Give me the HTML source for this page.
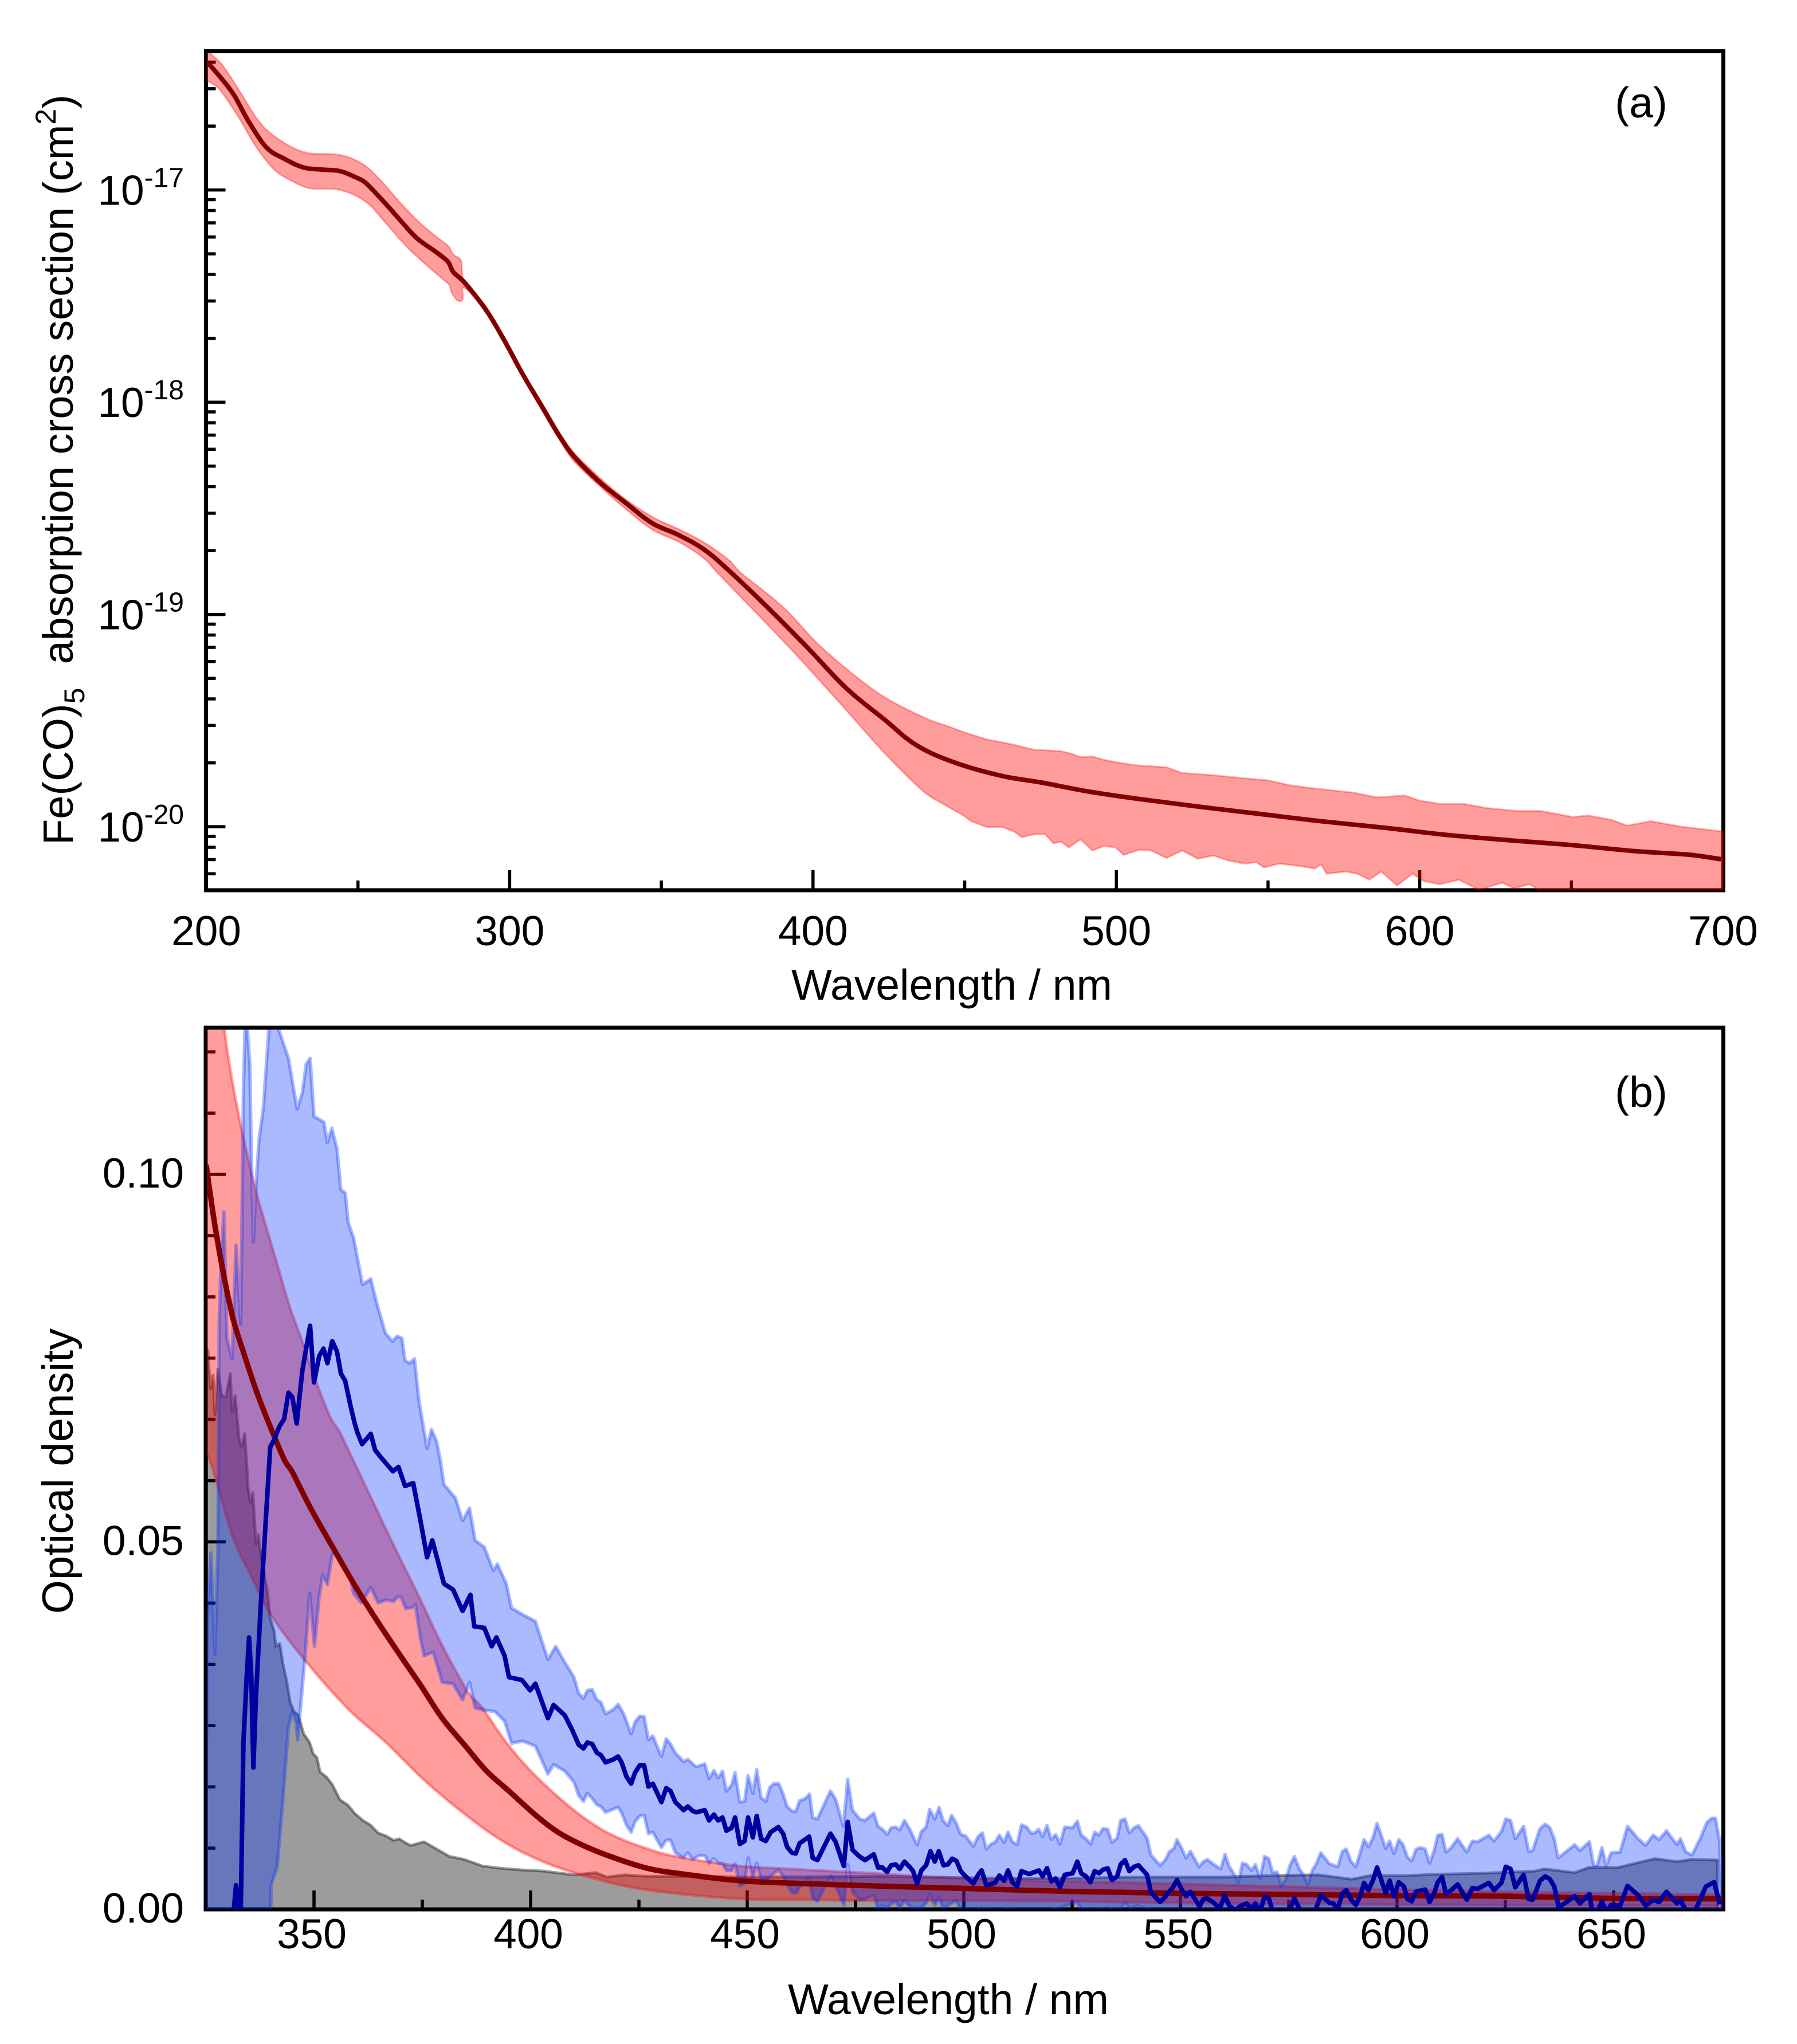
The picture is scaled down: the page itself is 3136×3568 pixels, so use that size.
<!DOCTYPE html>
<html lang="en">
<head>
<meta charset="utf-8">
<title>Fe(CO)5 absorption cross section and optical density</title>
<style>
html,body{margin:0;padding:0;background:#fff;}
svg{display:block;}
text{font-family:"Liberation Sans",Arial,sans-serif;fill:#000;font-size:73px;}
</style>
</head>
<body>
<svg id="figure" xmlns="http://www.w3.org/2000/svg" width="3136" height="3568" viewBox="0 0 3136 3568">
<defs>
<clipPath id="clipA"><rect x="361" y="92.5" width="2646.5" height="1461.5"/></clipPath>
<clipPath id="clipB"><rect x="361" y="1797" width="2644.5" height="1536"/></clipPath>
</defs>
<rect x="0" y="0" width="3136" height="3568" fill="#fff"/>
<g id="panelA"></g>
<g id="panelB"></g>
<text x="2864" y="205" text-anchor="middle" style="font-size:75px">(a)</text>
<text x="2864" y="1932" text-anchor="middle" style="font-size:75px">(b)</text>
<text x="1661" y="1745" text-anchor="middle" style="font-size:75px">Wavelength / nm</text>
<text x="1655" y="3516" text-anchor="middle" style="font-size:75px">Wavelength / nm</text>
<text transform="translate(127,1475) rotate(-90)" xml:space="preserve" style="font-size:74px">Fe(CO)<tspan style="font-size:50px" dy="20">5</tspan><tspan dy="-20">  absorption cross section (cm</tspan><tspan style="font-size:50px" dy="-30">2</tspan><tspan dy="30">)</tspan></text>
<text transform="translate(127,2568) rotate(-90)" text-anchor="middle" style="font-size:76px">Optical density</text>
</svg>
<script>
/* ---------- Panel (a): log10 of absorption cross section vs wavelength ---------- */
const aLineWavelength=[
200.2,204.3,209.1,213.9,219.9,226,232,238,244,248.9,
252.5,258.5,264.5,269.4,275.4,279.6,281.4,285,292.2,298.2,
304.3,310.3,316.3,321.2,329.8,338.4,347,355.6,364.2,372.4,
385.2,398.1,411,423.9,434.1,447,462.4,475.3,490.7,506.2,
526.8,547.4,568,588.6,609.1,629.7,650.3,670.9,688.9,699.3];
const aLineLogSigma=[
-16.396,-16.463,-16.552,-16.676,-16.801,-16.855,-16.894,-16.904,-16.911,-16.938,
-16.966,-17.055,-17.152,-17.227,-17.289,-17.337,-17.386,-17.434,-17.565,-17.708,
-17.868,-18.012,-18.157,-18.255,-18.378,-18.476,-18.57,-18.625,-18.695,-18.795,
-18.969,-19.155,-19.348,-19.499,-19.616,-19.699,-19.761,-19.792,-19.834,-19.867,
-19.905,-19.94,-19.975,-20.005,-20.039,-20.064,-20.087,-20.115,-20.132,-20.153];
const aUpperWavelength=[
200.2,205.5,211.5,216.3,221.1,228.4,234.4,244,251.3,257.3,
264.5,271.7,279.6,281.4,284,285,292.2,298.2,304.3,310.3,
316.3,321,330,338,347,356,364,372,376.2,390.4,
402.8,421.3,436.7,444.5,449.6,457.3,465,472.8,481.8,485.6,
488.2,492.1,495.9,501.1,506.2,516.5,521.7,532,537.1,550,
557.7,565.4,569.3,578.3,586,595,600.2,606.6,614.3,622,
632.3,640.1,650.4,655.5,663.2,668.4,676.1,686.4,691.6,700];
const aUpperLogSigma=[
-16.342,-16.415,-16.546,-16.656,-16.732,-16.8,-16.828,-16.835,-16.876,-16.952,
-17.069,-17.172,-17.262,-17.303,-17.333,-17.427,-17.551,-17.695,-17.854,-17.996,
-18.14,-18.235,-18.36,-18.455,-18.54,-18.6,-18.66,-18.74,-18.804,-18.969,
-19.155,-19.369,-19.486,-19.527,-19.554,-19.589,-19.61,-19.637,-19.644,-19.658,
-19.672,-19.669,-19.685,-19.699,-19.71,-19.72,-19.747,-19.757,-19.765,-19.782,
-19.806,-19.82,-19.826,-19.84,-19.862,-19.853,-19.878,-19.892,-19.892,-19.912,
-19.926,-19.926,-19.954,-19.947,-19.968,-19.995,-19.974,-20,-20.009,-20.023];
const aLowerWavelength=[
200.2,204.3,210.3,216.3,222.4,228.4,234.4,244,252.5,258.5,
265.7,272.9,280.2,280.8,284,285,292.2,298.2,304.3,310.3,
316.3,321,330,338,347,356,364,368.5,391.7,408.4,
423.9,436.7,444.5,449.6,452.2,457.3,462.5,466.3,468.9,472.8,
476.6,479.2,481.8,484.3,488.2,492.1,495.9,499.8,502.4,507.5,
511.4,516.5,521.7,526.8,532,537.1,542.3,546.1,548.7,553.8,
560.3,565.4,567.5,569.3,575.7,579.6,583.4,587.3,592.5,597.6,
601.5,606.6,613,619.5,627.2,631.1,636.2,640.1,700];
const aLowerLogSigma=[
-16.484,-16.525,-16.649,-16.794,-16.904,-16.959,-16.993,-17,-17.055,-17.145,
-17.262,-17.358,-17.448,-17.482,-17.523,-17.461,-17.578,-17.723,-17.881,-18.029,
-18.173,-18.275,-18.4,-18.5,-18.6,-18.66,-18.735,-18.804,-19.148,-19.41,
-19.658,-19.837,-19.906,-19.947,-19.974,-20.002,-20.002,-20.023,-20.05,-20.036,
-20.036,-20.078,-20.071,-20.098,-20.06,-20.112,-20.091,-20.098,-20.133,-20.109,
-20.112,-20.147,-20.112,-20.151,-20.136,-20.16,-20.174,-20.167,-20.192,-20.174,
-20.185,-20.197,-20.177,-20.222,-20.211,-20.222,-20.25,-20.211,-20.277,-20.222,
-20.257,-20.271,-20.25,-20.298,-20.264,-20.291,-20.271,-20.305,-20.33];
const aXMajorTicks=[200,300,400,500,600,700];
const aXMinorTicks=[250,350,450,550,650];
const aDecades=[-17,-18,-19,-20];
const aMinorMantissas=[2,3,4,5,6,7,8,9];

/* ---------- Panel (b): optical density vs wavelength ---------- */
const bRedWavelength=[
325.1,326,327.2,329,331.3,334,336.7,339.6,343.2,345,
349.2,354.3,359.4,364.4,369.5,374.6,379.6,384.7,389.7,394.8,
401.6,406.6,412.5,418.4,426.9,435.3,449.5,475,500,525,
550,568.5,600,625,650,675];
const bRedDensity=[
.1013,.0975,.0928,.0868,.0804,.0753,.0705,.0661,.0611,.0595,
.0546,.0493,.0441,.0394,.0349,.0305,.026,.0224,.0189,.0162,
.0126,.0104,.0086,.0072,.0056,.0048,.00385,.00327,.00285,.00243,
.00218,.00207,.00187,.00179,.0015,.00143];
const bRedUpperWavelength=[
325,329.3,331.3,333.1,334.9,336.7,339,341.4,344.4,347.3,
350.3,353.8,356,362.7,368.6,374.6,379.6,385.5,388.9,394.8,
401.6,410,415.8,420.4,425.7,431.9,440.7,450.4,476,500,
525,548,600,625,650,675];
const bRedUpperDensity=[
.15,.12,.1122,.1067,.1019,.0975,.0928,.088,.082,.0773,
.0721,.0669,.0649,.0566,.0493,.0421,.0359,.0296,.0274,.0224,
.0179,.0135,.0111,.0097,.0085,.0074,.0065,.0058,.005,.0042,
.0038,.0035,.0027,.0024,.0022,.002];
const bRedLowerWavelength=[
325,326.9,331.3,335.7,340.1,347.6,357.8,366.6,375.4,384.7,
393.2,401.6,409.8,414.2,418.6,425.2,436.3,449.5,462.7,476,
500,525,545,610,650,675];
const bRedLowerDensity=[
.0625,.0594,.0506,.0451,.04,.0341,.0273,.0227,.0176,.013,
.0094,.0068,.005,.0043,.0036,.0028,.002,.0014,.0013,.0012,
.0012,.0011,.0009,.0006,.0005,.0005];
const bGrayWavelength=[
325.2,325.5,326.1,326.7,327.1,327.8,328.7,329.6,330.7,331.1,
331.8,332.7,333.3,334,334.4,334.8,335.3,335.9,336.6,337.1,
337.9,339.3,339.9,340.8,341.2,342.1,342.8,343.7,344.5,345.4,
346.3,347,347.6,349,349.8,350.7,351.4,352.9,354.2,356,
357.8,359.5,361.3,363,364.8,366.6,368.4,369.7,371,372.3,
375.4,381.3,384.7,388.9,393.1,397.3,403.2,410,415,417.6,
421.8,426.9,435.3,450,480,500,520,540,560,571,
582,589.5,593.7,602,610.6,619,631.7,634,641,644.3,
651,654.5,659.5,664.6,668,674];
const bGrayDensity=[
.076,.0761,.0709,.0727,.0673,.0735,.0699,.0697,.0729,.0677,
.0699,.0641,.0629,.0647,.0613,.0573,.0554,.0567,.0497,.051,
.0476,.043,.0396,.0379,.0358,.0362,.0335,.0311,.0282,.0269,
.0265,.0252,.0239,.0227,.0212,.0206,.0187,.018,.017,.0149,
.0142,.013,.0121,.0115,.0104,.01,.0094,.0096,.0091,.0087,
.0092,.0072,.0068,.0059,.0056,.0054,.0052,.0047,.005,.0044,
.0047,.0045,.0045,.0044,.0045,.0043,.0042,.0044,.0044,.0046,
.0047,.0041,.0046,.0046,.0048,.0049,.0052,.0055,.005,.0057,
.0057,.0062,.0069,.0065,.0068,.0067];
const bBlueUpperWavelength=[
325.1,325.4,326.2,327.1,327.8,328,328.1,328.5,329.2,329.9,
331.1,332,332.7,333.1,333.4,333.7,334.2,335.2,335.5,336,
336.7,337.3,338.3,339.6,340.8,341.7,342.6,344.1,346.1,347.3,
348.2,349.1,350,352.3,353.1,354.1,355.3,356.2,357.2,357.9,
359.2,361.2,363.1,364.7,366.5,368.1,369.2,370.3,371,372.1,
373.2,374.2,376.1,377.1,378.3,379.2,380,382.6,384.3,385.9,
387.2,389.3,391.4,392.3,394.4,395.6,398.2,401.1,404,405.8,
407.5,410,411.1,412.2,413.1,414.2,415.3,416.2,417.3,419.1,
420.2,421.5,423.2,424.1,425.2,426.2,427.2,428.2,430.2,431.3,
432.3,433.4,435.3,436.3,438.2,440.2,441.2,442.3,443.3,444.3,
445.2,446.4,447.2,448.3,449.4,450.2,451.3,452.2,453.2,454.3,
455.2,456.1,457.3,458.3,459.2,460.3,461.2,462.1,463.2,464.4,
465.1,466.2,467.4,469.2,470.4,472.2,473.2,474.3,476,477.2,
479.2,480.2,481.2,482.3,483.2,484.3,485.2,486.3,487.6,489.2,
490.2,491.3,492.1,493.3,494.3,495.2,496.3,497.2,498.2,499.3,
500.4,502.2,503.3,504.3,505.2,506.3,507.2,508.2,509.3,510.2,
511.2,512.3,513.3,514.5,515.5,516.3,517.3,518.2,519.2,520.2,
521.2,522.2,523.3,525.1,526.2,527.1,528.2,529.3,530.2,531.2,
532.1,533.2,534.2,535.4,536.2,537.2,538.2,539.3,540.3,542.3,
543.2,545.3,546.5,547.4,548.5,549.2,550.3,551.3,552.3,554.3,
555.3,556.2,557.5,559.3,560.3,561.3,562.4,563.4,564.3,565.3,
566.4,567.3,568.4,569.4,570.4,571.3,572.3,573.3,574.3,575.3,
576.3,577.4,578.3,579.4,580.5,581.3,582.4,584.4,586.3,587.4,
588.3,589.4,590.5,592.4,593.4,594.4,595.4,597.4,598.3,599.3,
600.4,601.4,602.4,603.4,604.4,605.5,606.5,607.5,608.5,609.4,
610.4,611.3,612.5,614,616.1,617.4,618.6,621.2,622.4,624.1,
625.1,626.2,627.3,629.2,630.4,631.3,633,634.2,635.3,636.3,
637.2,641,642.2,644.4,645.4,646.2,647.3,648.3,649.4,651.5,
653.2,655.7,657.4,659.1,660.5,662.2,664.6,665.4,666.7,668.1,
670.1,671.5,672.6,673.5,674.5];
const bBlueUpperDensity=[
.0147,.0396,.0485,.0347,.0485,.0649,.0796,.0876,.0949,.0777,
.0749,.0904,.0836,.0796,.0955,.1115,.123,.115,.1035,.0908,
.0995,.1047,.109,.12,.1215,.12,.1184,.1158,.1089,.1111,
.115,.1158,.1079,.1071,.1043,.1063,.1035,.0979,.0975,.0935,
.0912,.085,.0858,.082,.0784,.0773,.078,.0777,.0747,.0743,
.0749,.0693,.0627,.0653,.0637,.061,.0578,.056,.0529,.0546,
.0502,.0493,.0461,.047,.0443,.041,.0401,.0392,.034,.0358,
.034,.0316,.0294,.0287,.0298,.0299,.0285,.0282,.0266,.0272,
.0279,.0266,.0239,.0255,.0263,.0262,.0231,.0236,.0208,.0232,
.0225,.0213,.0201,.0204,.0194,.0198,.0178,.0189,.0179,.0188,
.0161,.0169,.0186,.0146,.0147,.0182,.0158,.019,.0152,.0147,
.0166,.0171,.0171,.0157,.014,.0134,.0133,.0148,.015,.0157,
.0125,.0123,.0138,.0161,.015,.0113,.0177,.0135,.0123,.0121,
.0131,.0113,.0109,.0102,.0111,.0112,.0108,.0121,.0108,.0088,
.0106,.0112,.0136,.0123,.0139,.0121,.0114,.0128,.0118,.0102,
.01,.0086,.0099,.0104,.0082,.0089,.0091,.0101,.0091,.0105,
.0092,.0088,.0115,.0112,.0104,.0104,.0109,.0099,.0114,.0095,
.0102,.0089,.0112,.0111,.012,.0101,.0096,.0089,.0105,.0101,
.011,.0109,.0091,.0097,.0121,.0123,.0104,.0111,.0114,.0097,
.0074,.006,.0067,.0078,.0083,.0095,.0083,.007,.0079,.0058,
.0065,.0068,.0062,.0055,.0075,.0058,.0048,.0037,.0063,.0061,
.0053,.0061,.0042,.0072,.0069,.005,.0051,.0032,.0041,.006,
.0072,.0056,.0048,.0034,.0054,.0061,.0077,.0062,.0058,.0079,
.0082,.0065,.0058,.0095,.0085,.0097,.0117,.0083,.0093,.0076,
.0095,.0088,.0071,.0066,.0082,.0084,.0082,.0063,.0079,.0101,
.0102,.0078,.0084,.0096,.0078,.0093,.0092,.0101,.0093,.0106,
.0123,.0121,.0096,.0113,.0079,.008,.011,.0116,.0111,.0096,
.007,.0088,.008,.0092,.006,.006,.0084,.0059,.0077,.0078,
.0113,.0096,.0087,.0101,.0095,.0107,.0088,.0096,.0078,.0074,
.0098,.0118,.0124,.0124,.0092];
const bBlueLowerWavelength=[
325.1,340,340.1,341.5,342.8,344.1,345,345.9,346.2,346.8,
347.9,349,350.1,351.2,352,353.1,354.2,355.6,358.2,359.1,
360.9,363.1,364.8,366.6,368.4,369.2,370.1,371.2,372.8,373.4,
374.5,375.4,377.5,379.6,382.1,384.3,385.9,387.2,389.3,391.8,
394,395.6,398.2,401.1,404,405.3,407.9,410,411.1,412.2,
413.1,414.2,415.3,416.2,417.3,420.2,421,422.1,423.2,424.1,
425.2,426.2,427.2,428.2,430.2,431.3,432.3,433.4,435.3,436.3,
437.4,438.9,440.2,441.2,442.3,443.3,444.3,445.2,446.4,447.2,
448.3,449.4,450.2,451.3,452.2,453.2,454.3,455.4,457.2,458.3,
460.3,461.2,462.1,464.3,465.1,466.2,469.2,470.4,472.3,473.2,
474.3,476,477.2,479.2,480.2,481.2,482.3,483.2,484.3,485.2,
486.3,488,490.2,491.3,492.1,493.3,494.3,495.2,497,498.2,
499.3,502,504.1,506,510.2,512,518,526.2,527.5,533.2,
536,537.2,538.3,540,542,544,675];
const bBlueLowerDensity=[
-.001,-.001,.0033,.0058,.0147,.0248,.0269,.0253,.0231,.0269,
.0341,.043,.0358,.0426,.0455,.0442,.0483,.0483,.0455,.043,
.0417,.0438,.0417,.0421,.0419,.0425,.0425,.0409,.0411,.0415,
.0371,.0345,.035,.0309,.0307,.0285,.0309,.0274,.0271,.0269,
.0256,.0226,.0229,.0222,.0184,.0197,.0188,.0173,.0155,.0147,
.0158,.0151,.0142,.014,.0132,.0139,.0131,.0115,.0105,.0119,
.0127,.0128,.0103,.0105,.0084,.0094,.0094,.0077,.007,.0077,
.0068,.0073,.0073,.0063,.0069,.0063,.0062,.0053,.0053,.0062,
.0032,.0035,.007,.0042,.0063,.0041,.0039,.0045,.0054,.0045,
.0023,.0022,.003,.0042,.0016,.0011,.0045,.0032,.0006,.0061,
.0024,.0013,.0014,.0019,.0001,.0006,.0001,.0008,.001,.0002,
.0012,.0001,.0002,.0009,.0021,.0006,.0017,.0001,.0008,.0012,
-.0001,-.0008,.0002,-.0006,0,-.0006,-.0006,.001,-.0004,.0002,
-.0004,.001,0,.0005,.0001,-.001,-.001];
const bBlueWavelength=[
331,331.5,332,332.6,333.1,333.7,334.4,335,335.5,336,
336.6,337.7,338.8,339.9,340.8,342,343.1,344.1,345,346,
347.3,349.1,350,351.2,352.2,353.1,354.2,355.3,356.2,357.2,
358.5,359.4,360,361.1,363.1,364.1,365.3,368.2,369.5,371,
372.9,374.6,376.1,377.3,380,382.1,384.3,386.1,387,389.3,
391,392.1,394,395,398,399.9,401.1,404,405.3,407.9,
409.6,411.1,412.2,413.1,414.2,415.3,416.2,417.3,419.1,420.2,
421,422.1,423.2,424.1,425.2,426.2,427.2,428.2,430.2,431.3,
432.3,433.4,435.3,436.3,437.4,438.2,440.2,441.2,442.3,443.3,
444.3,445.2,446.4,447.2,448.3,449.4,450.2,451.3,452.2,453.2,
454.3,455.4,457.2,458.3,459.2,460.3,461.2,462.1,464.3,465.1,
466.2,469.2,470.4,472.3,473.2,474.3,475.9,477.2,479.2,480.2,
481.2,482.3,483.2,484.3,485.2,486.3,487.6,488.3,489.2,490.2,
491.3,492.3,493.3,494.2,495.3,496.3,497.3,498.3,499.3,500.4,
502.2,503.3,504.1,505.2,507.2,508.2,509.3,510.2,511.2,512.3,
513.3,515.1,517.3,518.2,519.2,520.2,521.2,522.2,523.3,525.1,
526.2,527.1,528.2,529.2,530.2,531.2,532.1,533.2,534.2,535.4,
536.2,537.2,538.2,539.3,540.3,542.3,543.2,545.3,546.5,547.4,
548.3,549.2,550.3,551.3,552.3,554.4,555.3,556.2,557.5,559.1,
560.2,561.3,562.6,564,565.3,566.4,567.3,568.4,569.4,570.4,
571.3,575.2,576.3,577.8,581.1,582.4,584.4,585.3,586.3,587.4,
588.3,589.4,590.5,591.5,592.4,593.4,594.4,595.4,597.4,598.3,
599.3,600.4,601.6,602.4,603.4,604.4,606.5,607.5,608.5,609.4,
610.4,611.3,612.5,614,616.1,617.4,618.6,621.2,622.4,624.1,
625.1,626.2,627.3,629.2,630.4,631.3,633,634.2,635.3,636.3,
637.3,638.9,641,642.2,644.4,645,646.2,647.3,648.3,649.4,
651.5,653.2,655.7,657.4,659.1,660.5,662.2,664.6,665.4,666.7,
668.8,671.3,673.2,674.5];
const bBlueDensity=[
-.002,0,.0033,.0005,0,.0227,.0311,.037,.032,.0193,
.029,.0413,.0523,.0629,.0639,.0657,.0667,.0703,.0697,.0661,
.0733,.0794,.0717,.0753,.0763,.0743,.0773,.0759,.0729,.0719,
.0683,.0661,.0649,.0633,.0647,.0625,.0616,.0596,.0602,.0576,
.058,.0528,.0479,.0502,.0443,.0435,.0406,.0428,.0385,.0383,
.0358,.037,.0345,.0316,.0312,.0298,.0307,.026,.0278,.0264,
.0244,.0224,.0219,.0227,.0225,.0213,.021,.02,.0204,.0208,
.02,.0181,.0171,.0186,.0196,.0196,.0167,.0171,.0146,.0165,
.0161,.0146,.0135,.014,.0134,.0132,.0135,.0121,.0129,.0121,
.0125,.0107,.0111,.0125,.0089,.0093,.0125,.0098,.0127,.0096,
.0093,.0105,.0112,.0103,.0085,.0077,.0076,.009,.0099,.007,
.0067,.0103,.0092,.0059,.0119,.0081,.0072,.0067,.0075,.0057,
.0057,.0051,.006,.0061,.0055,.0065,.0057,.0052,.0035,.0053,
.006,.0079,.0065,.0079,.006,.0061,.0069,.0066,.0052,.0045,
.0035,.0047,.0053,.0033,.0036,.0046,.0039,.0053,.0037,.0031,
.0052,.0048,.0053,.0045,.0056,.0038,.0042,.003,.0047,.0049,
.0065,.0049,.0045,.0037,.0052,.0049,.0054,.0056,.004,.0045,
.0061,.0067,.0052,.0058,.006,.0047,.0023,.001,.0017,.0024,
.003,.004,.0027,.0018,.0024,.0004,.0014,.0015,.001,.0001,
.0019,.0005,-.0001,.0005,.0008,.0001,.0008,-.0003,.0017,.0015,
-.0003,-.0002,.0015,-.0003,-.0002,.0019,.0009,.0008,0,.0022,
.0026,.0013,.0006,.0018,.0036,.0026,.0039,.0057,.0022,.0039,
.0018,.0037,.0031,.0014,.0011,.0024,.0027,.001,.0021,.0037,
.0044,.0021,.0026,.0034,.0013,.0029,.0028,.0036,.0026,.0036,
.0058,.0055,.003,.0047,.0014,.0013,.0039,.0045,.0041,.0031,
.0003,.0009,.0018,.0008,.0021,-.0001,-.0004,.0011,-.0004,.0006,
.0005,.0032,.0019,.0005,.0013,.001,.0024,.0008,.0013,-.0002,
-.0002,.0031,.0037,.0007];
const bXMajorTicks=[350,400,450,500,550,600,650];
const bXMinorTicks=[375,425,475,525,575,625];
const bYMajorTicks=[0,0.05,0.10];
const bYMajorLabels=["0.00","0.05","0.10"];
const bYMinorStep=[0.05/6];

/* ---------- Axis functions ---------- */
const NS="http://www.w3.org/2000/svg";
const panelA=document.getElementById("panelA");
const panelB=document.getElementById("panelB");
function xA(w){return 360+(w-200)*5.294;}
function yA(e){return 331.6+(-17-e)*370.5;}
function xB(w){return 548+(w-350)*7.56;}
function yB(v){return 3333-v*12830;}
function add(parent,tag,attrs){
  const el=document.createElementNS(NS,tag);
  for(const k in attrs){el.setAttribute(k,attrs[k]);}
  parent.appendChild(el);
  return el;
}
function fmt(p){return p[0].toFixed(1)+" "+p[1].toFixed(1);}
function toPoints(xs,ys,fx,fy){
  return xs.map(function(x,i){return [fx(x),fy(ys[i])];});
}
function linePath(xs,ys,fx,fy){
  return toPoints(xs,ys,fx,fy).map(function(p,i){return (i?"L":"M")+fmt(p);}).join("");
}
/* Smooth curve through points; tangents limited by neighbouring segment length. */
function curveSegments(pts){
  function tangent(i){
    const a=pts[Math.max(i-1,0)],b=pts[Math.min(i+1,pts.length-1)];
    let dx=b[0]-a[0],dy=b[1]-a[1];
    const len=Math.hypot(dx,dy)||1;
    const prev=i>0?Math.hypot(pts[i][0]-pts[i-1][0],pts[i][1]-pts[i-1][1]):Infinity;
    const next=i<pts.length-1?Math.hypot(pts[i+1][0]-pts[i][0],pts[i+1][1]-pts[i][1]):Infinity;
    const m=Math.min(prev,next)*0.38;
    return [dx/len*m,dy/len*m];
  }
  let d="";
  for(let i=0;i<pts.length-1;i++){
    const t0=tangent(i),t1=tangent(i+1);
    d+="C"+fmt([pts[i][0]+t0[0],pts[i][1]+t0[1]])+" "+fmt([pts[i+1][0]-t1[0],pts[i+1][1]-t1[1]])+" "+fmt(pts[i+1]);
  }
  return d;
}
function curvePath(xs,ys,fx,fy){
  const pts=toPoints(xs,ys,fx,fy);
  return "M"+fmt(pts[0])+curveSegments(pts);
}
function bandPath(xu,yu,xl,yl,fx,fy){
  let d=linePath(xu,yu,fx,fy);
  for(let i=xl.length-1;i>=0;i--){d+="L"+fx(xl[i]).toFixed(1)+" "+fy(yl[i]).toFixed(1);}
  return d+"Z";
}
function curveBandPath(xu,yu,xl,yl,fx,fy){
  const up=toPoints(xu,yu,fx,fy);
  const lo=toPoints(xl,yl,fx,fy).reverse();
  return "M"+fmt(up[0])+curveSegments(up)+"L"+fmt(lo[0])+curveSegments(lo)+"Z";
}
/* Smooth below the split wavelength, straight (noisy) above it. */
function mixedBandPath(xu,yu,xl,yl,fx,fy,split){
  const nu=xu.filter(function(w){return w<=split;}).length;
  const nl=xl.filter(function(w){return w<=split;}).length;
  const up=toPoints(xu,yu,fx,fy);
  const lo=toPoints(xl,yl,fx,fy);
  let d="M"+fmt(up[0])+curveSegments(up.slice(0,nu));
  up.slice(nu).forEach(function(p){d+="L"+fmt(p);});
  lo.slice(nl).reverse().forEach(function(p){d+="L"+fmt(p);});
  const loHead=lo.slice(0,nl).reverse();
  d+="L"+fmt(loHead[0])+curveSegments(loHead);
  return d+"Z";
}
function drawTick(parent,name,x1,y1,x2,y2){
  const t=add(parent,"line",{x1:x1,y1:y1,x2:x2,y2:y2,stroke:"#000","stroke-width":5.5});
  
  
}
function drawFrame(parent,name,x1,y1,x2,y2){
  const f=add(parent,"rect",{x:x1,y:y1,width:x2-x1,height:y2-y1,fill:"none",stroke:"#000","stroke-width":7});
  
  
}
function drawLabel(parent,name,x,y,anchor,str){
  const t=add(parent,"text",{x:x,y:y,"text-anchor":anchor});
  t.textContent=str;
  
  
  return t;
}

/* ---------- Panel (a) ---------- */
const aLeft=359.5,aRight=3007.5,aTop=89.5,aBottom=1554;
drawFrame(panelA,"panel-a-frame",aLeft,aTop,aRight,aBottom);
aXMajorTicks.forEach(function(w){
  drawTick(panelA,"panel-a-x-major-tick",xA(w),aBottom,xA(w),aBottom-35);
  drawLabel(panelA,"panel-a-x-tick-label",xA(w),1650,"middle",String(w));
});
aXMinorTicks.forEach(function(w){
  drawTick(panelA,"panel-a-x-minor-tick",xA(w),aBottom,xA(w),aBottom-17);
});
aDecades.forEach(function(d){
  drawTick(panelA,"panel-a-y-major-tick",aLeft,yA(d),aLeft+34,yA(d));
  const lbl=drawLabel(panelA,"panel-a-y-tick-label",321,yA(d)+26,"end","10");
  const sup=add(lbl,"tspan",{dy:-31,style:"font-size:48px"});
  sup.textContent=String(d);
  
  
});
[-17,-18,-19,-20,-21].forEach(function(d){
  aMinorMantissas.forEach(function(m){
    const e=d+Math.log10(m);
    if(yA(e)>aTop+4&&yA(e)<aBottom-4){
      drawTick(panelA,"panel-a-y-minor-tick",aLeft,yA(e),aLeft+17,yA(e));
    }
  });
});
const aPlot=add(panelA,"g",{"clip-path":"url(#clipA)"});


const aBand=add(aPlot,"path",{d:mixedBandPath(aUpperWavelength,aUpperLogSigma,aLowerWavelength,aLowerLogSigma,xA,yA,445),fill:"rgba(255,0,0,0.39)",stroke:"rgba(255,0,0,0.3)","stroke-width":3,"stroke-linejoin":"round"});


const aLine=add(aPlot,"path",{d:curvePath(aLineWavelength,aLineLogSigma,xA,yA),fill:"none",stroke:"#800000","stroke-width":8,"stroke-linejoin":"round"});



/* ---------- Panel (b) ---------- */
const bLeft=359,bRight=3007.5,bTop=1794,bBottom=3333;
drawFrame(panelB,"panel-b-frame",bLeft,bTop,bRight,bBottom);
bXMajorTicks.forEach(function(w){
  drawTick(panelB,"panel-b-x-major-tick",xB(w),bBottom,xB(w),bBottom-33);
  drawLabel(panelB,"panel-b-x-tick-label",xB(w)-4,3401,"middle",String(w));
});
bXMinorTicks.forEach(function(w){
  drawTick(panelB,"panel-b-x-minor-tick",xB(w),bBottom,xB(w),bBottom-17);
});
bYMajorTicks.forEach(function(v,i){
  drawTick(panelB,"panel-b-y-major-tick",bLeft,yB(v),bLeft+35,yB(v));
  drawLabel(panelB,"panel-b-y-tick-label",321,yB(v)+23,"end",bYMajorLabels[i]);
});
for(let k=1;k<15;k++){
  const v=k*bYMinorStep[0];
  if(k%6!==0){drawTick(panelB,"panel-b-y-minor-tick",bLeft,yB(v),bLeft+17,yB(v));}
}
const bPlot=add(panelB,"g",{"clip-path":"url(#clipB)"});


const bGrayArea=add(bPlot,"path",{d:bandPath(bGrayWavelength,bGrayDensity,[325.2,674],[-.001,-.001],xB,yB),fill:"rgba(0,0,0,0.39)",stroke:"rgba(0,0,0,0.38)","stroke-width":5,"stroke-linejoin":"round"});


const bRedBand=add(bPlot,"path",{d:curveBandPath(bRedUpperWavelength,bRedUpperDensity,bRedLowerWavelength,bRedLowerDensity,xB,yB),fill:"rgba(255,0,0,0.39)",stroke:"rgba(255,0,0,0.33)","stroke-width":5,"stroke-linejoin":"round"});


const bBlueBand=add(bPlot,"path",{d:bandPath(bBlueUpperWavelength,bBlueUpperDensity,bBlueLowerWavelength,bBlueLowerDensity,xB,yB),fill:"rgba(0,45,255,0.33)",stroke:"rgba(0,45,255,0.33)","stroke-width":6,"stroke-linejoin":"round"});


const bRedLine=add(bPlot,"path",{d:curvePath(bRedWavelength,bRedDensity,xB,yB),fill:"none",stroke:"#800000","stroke-width":9.5,"stroke-linejoin":"round"});


const bBlueLine=add(bPlot,"path",{d:linePath(bBlueWavelength,bBlueDensity,xB,yB),fill:"none",stroke:"#0000a0","stroke-width":8,"stroke-linejoin":"round"});


</script>
</body>
</html>
